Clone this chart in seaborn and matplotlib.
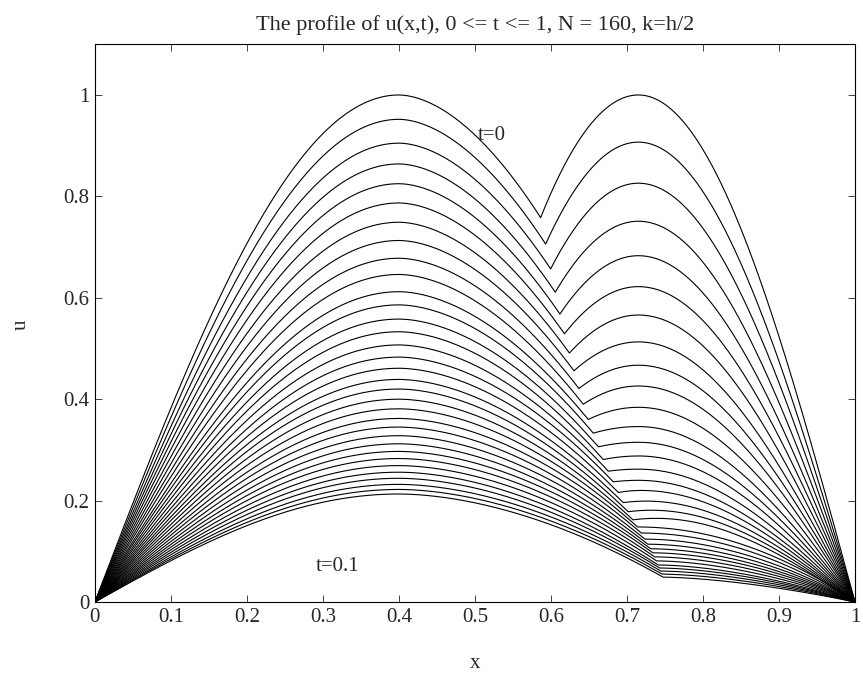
import numpy as np
import pandas as pd
import matplotlib
matplotlib.use("Agg")
import matplotlib.pyplot as plt
import seaborn as sns

# Solution profiles u(x, t) stored every time step (k = 1/320) from t = 0 to t = 0.1.
# Height of the left hump at its crest x = 0.4
left_peak = [1.000, 0.952, 0.905, 0.864, 0.825, 0.787, 0.749, 0.713, 0.678,
             0.646, 0.612, 0.586, 0.558, 0.533, 0.507, 0.483, 0.461, 0.439,
             0.420, 0.400, 0.381, 0.362, 0.345, 0.328, 0.312, 0.297, 0.283,
             0.269, 0.256, 0.244, 0.232, 0.222, 0.213]
# Corner between the humps: location and height
kink_x = [0.5864, 0.5930, 0.5996, 0.6057, 0.6118, 0.6178, 0.6243, 0.6303,
          0.6368, 0.6425, 0.6491, 0.6557, 0.6622, 0.6688, 0.6754, 0.6820,
          0.6886, 0.6951, 0.7017, 0.7080, 0.7140, 0.7190, 0.7235, 0.7275,
          0.7310, 0.7340, 0.7365, 0.7390, 0.7410, 0.7430, 0.7445, 0.7460,
          0.7475]
kink_u = [0.758, 0.706, 0.657, 0.611, 0.568, 0.529, 0.491, 0.456, 0.421,
          0.390, 0.360, 0.333, 0.306, 0.281, 0.258, 0.237, 0.216, 0.196,
          0.178, 0.162, 0.148, 0.136, 0.124, 0.114, 0.105, 0.097, 0.089,
          0.081, 0.073, 0.067, 0.061, 0.055, 0.049]
# Height of the right hump (crest near x = 0.715) while it is still present
right_peak = [1.000, 0.907, 0.826, 0.751, 0.683, 0.622, 0.566, 0.513, 0.467,
              0.426, 0.384, 0.346, 0.315, 0.288, 0.262, 0.240, 0.220, 0.199,
              0.181, 0.165]

X_LEFT = 0.4
X_RIGHT = 0.715


def profile(i, x):
    L, xk, yk = left_peak[i], kink_x[i], kink_u[i]
    u = np.empty_like(x)
    # rising flank of the left hump
    m = x <= X_LEFT
    u[m] = L * np.sin(0.5 * np.pi * x[m] / X_LEFT)
    # falling flank down to the corner
    m = (x > X_LEFT) & (x <= xk)
    s = (x[m] - X_LEFT) / (xk - X_LEFT)
    u[m] = L - (L - yk) * s ** 1.8
    m = x > xk
    if i < len(right_peak) and right_peak[i] > yk:
        R = right_peak[i]
        xr = max(X_RIGHT, xk + 0.03)
        m1 = (x > xk) & (x <= xr)
        s = (xr - x[m1]) / (xr - xk)
        u[m1] = R - (R - yk) * s ** 2
        m2 = x > xr
        s = (x[m2] - xr) / (1 - xr)
        u[m2] = R * np.cos(0.5 * np.pi * s)
    else:
        s = (x[m] - xk) / (1 - xk)
        q = 1.4 + 0.6 * min(1.0, yk / 0.15)
        u[m] = yk * (1 - s ** q)
    return u


rows = []
base = np.linspace(0, 1, 801)
for i in range(len(left_peak)):
    x = np.unique(np.append(base, kink_x[i]))
    rows.append(pd.DataFrame({"x": x, "u": profile(i, x), "step": i}))
df = pd.concat(rows, ignore_index=True)

sns.set_style("ticks", {"xtick.direction": "in", "ytick.direction": "in"})
plt.rcParams["font.family"] = ["Liberation Serif", "DejaVu Serif"]

fig = plt.figure(figsize=(8.63, 6.77), dpi=100)
ax = fig.add_axes([0.110, 0.1108, 0.8807, 0.8238])

sns.lineplot(data=df, x="x", y="u", units="step", estimator=None, sort=False,
             color="black", linewidth=0.8, legend=False, ax=ax)

ax.set_xlim(0, 1)
ax.set_ylim(0, 1.1)
xt = [0, 0.1, 0.2, 0.3, 0.4, 0.5, 0.6, 0.7, 0.8, 0.9, 1]
yt = [0, 0.2, 0.4, 0.6, 0.8, 1]
ax.set_xticks(xt)
ax.set_xticklabels(["0", "0.1", "0.2", "0.3", "0.4", "0.5", "0.6", "0.7", "0.8", "0.9", "1"])
ax.set_yticks(yt)
ax.set_yticklabels(["0", "0.2", "0.4", "0.6", "0.8", "1"])
ax.tick_params(axis="both", which="major", direction="in", length=5, width=0.6,
               labelsize=15, top=True, right=True, pad=4)
for sp in ax.spines.values():
    sp.set_visible(True)
    sp.set_linewidth(0.8)
    sp.set_color("black")

ax.set_xlabel("x", fontsize=15)
ax.set_ylabel("u", fontsize=15)
ax.xaxis.label.set_verticalalignment("center")
ax.yaxis.label.set_verticalalignment("center")
ax.xaxis.set_label_coords(0.5, -0.110)
ax.yaxis.set_label_coords(-0.097, 0.497)
ax.set_title("The profile of u(x,t), 0 <= t <= 1, N = 160, k=h/2", fontsize=16, pad=10)

ax.text(0.504, 0.921, "t=0", fontsize=15, ha="left", va="center")
ax.text(0.29, 0.07, "t=0.1", fontsize=15, ha="left", va="center")

fig.savefig("out.png", dpi=100)
